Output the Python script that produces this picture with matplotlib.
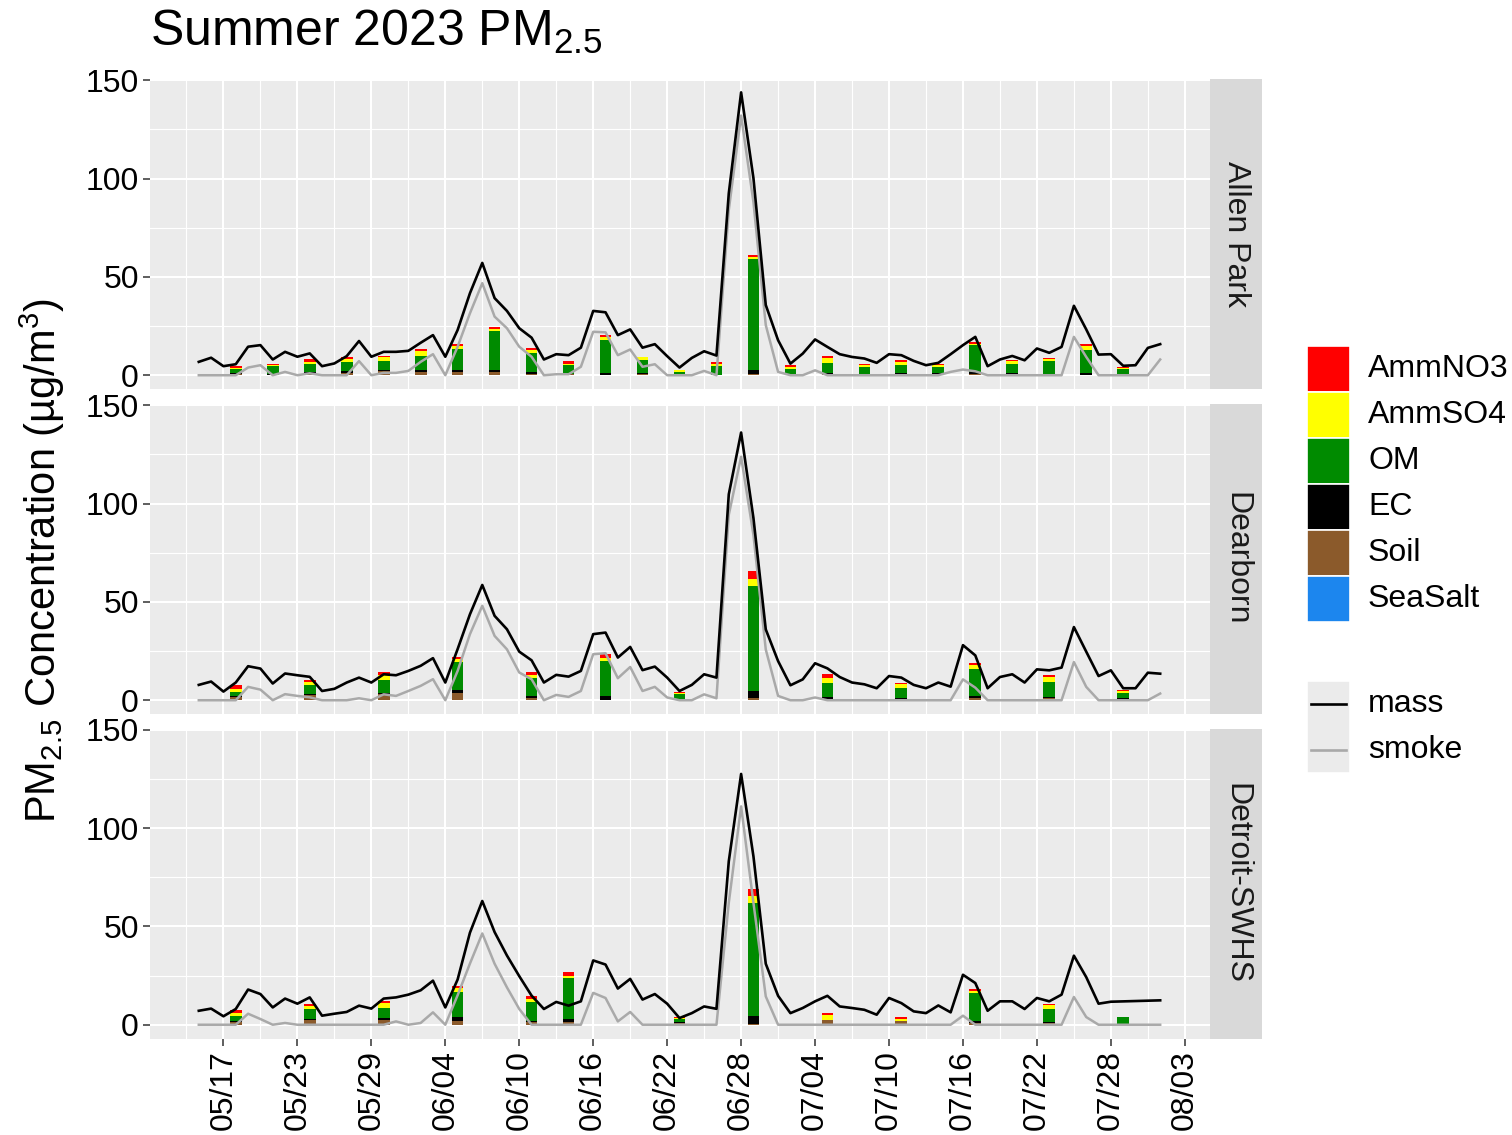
import numpy as np
import matplotlib
matplotlib.use("Agg")
import matplotlib.pyplot as plt
from matplotlib.patches import Rectangle
from matplotlib.lines import Line2D

plt.rcParams['font.family'] = ['Liberation Sans', 'DejaVu Sans']
plt.rcParams['mathtext.fontset'] = 'custom'
plt.rcParams['mathtext.rm'] = 'Liberation Sans'
plt.rcParams['mathtext.it'] = 'Liberation Sans:italic'
plt.rcParams['mathtext.default'] = 'regular'

# daily series 05/15 .. 08/01
days = np.arange('2023-05-15', '2023-08-02', dtype='datetime64[D]')

sites = ['Allen Park', 'Dearborn', 'Detroit-SWHS']

ap_mass = [6.8, 8.9, 4.6, 5.6, 14.5, 15.3, 8.0, 11.9, 9.4, 11.1, 4.6, 6.0, 9.7, 17.4, 9.4, 11.9, 11.9,
           12.4, 16.5, 20.4, 9.4, 23.0, 41.7, 57.1, 39.2, 32.7, 23.9, 19.1, 8.0, 10.7, 10.2, 14.0,
           32.7, 32.0, 20.4, 23.3, 14.0, 15.8, 9.7, 3.9, 8.8, 12.2, 10.0, 92.5, 143.8, 100.2, 35.7,
           17.8, 5.9, 11.0, 18.2, 14.4, 10.7, 9.3, 8.5, 6.3, 10.7, 10.2, 7.3, 5.1, 6.3, 10.7, 15.3,
           19.5, 4.6, 8.0, 9.8, 7.6, 13.6, 11.4, 14.4, 35.3, 23.3, 10.5, 10.7, 4.8, 5.1, 13.9,
           15.8]
ap_smoke = [0, 0, 0, 0, 3.9, 5.1, 0, 1.7, 0, 1.0, 0, 0, 0, 7.2, 0, 1.2, 1.2,
            2.2, 6.8, 10.7, 0, 14.5, 31.5, 46.8, 29.8, 23.9, 14.5, 9.4, 0, 0.5, 0.5, 4.3,
            22.1, 21.8, 10.2, 13.1, 4.3, 5.6, 0, 0, 0, 2.2, 0, 84.0, 132.0, 88.0, 25.5,
            1.7, 0, 0, 2.5, 0, 0, 0, 0, 0, 0, 0, 0, 0, 0, 1.7, 2.9,
            2.0, 0, 0, 0, 0, 0, 0, 0, 19.5, 9.3, 0, 0, 0, 0, 0,
            8.0]

db_mass = [7.8, 9.5, 4.4, 9.0, 17.3, 16.1, 8.5, 13.6, 12.7, 11.9, 4.7, 5.8, 9.0, 11.5, 9.0, 13.2, 12.7,
           14.9, 17.5, 21.4, 9.0, 26.0, 43.7, 58.6, 42.9, 36.1, 24.7, 20.3, 9.0, 12.9, 12.0, 14.9,
           33.6, 34.4, 21.7, 27.1, 15.3, 17.1, 11.5, 4.7, 7.8, 13.2, 11.5, 104.7, 136.1, 92.6, 36.0,
           19.9, 7.6, 10.6, 18.8, 16.2, 11.8, 9.0, 8.1, 6.1, 12.3, 11.5, 7.8, 6.1, 9.0, 6.9, 28.0,
           22.8, 6.1, 11.8, 13.2, 9.0, 15.7, 15.2, 16.6, 37.2, 24.7, 12.3, 15.2, 6.1, 6.1, 14.0,
           13.5]
db_smoke = [0, 0, 0, 0, 6.8, 5.4, 0, 3.1, 2.2, 1.5, 0, 0, 0, 1.0, 0, 3.0, 2.2,
            4.7, 7.3, 10.7, 0, 14.9, 33.6, 48.0, 32.7, 25.9, 14.1, 10.7, 0, 2.7, 1.7, 4.7,
            23.4, 23.9, 11.2, 16.9, 4.7, 6.8, 1.4, 0, 0, 3.0, 1.0, 94.3, 123.8, 84.0, 25.8,
            2.2, 0, 0, 1.4, 0, 0, 0, 0, 0, 0, 0, 0, 0, 0, 0, 10.6,
            6.4, 0, 0, 0, 0, 0, 0, 0, 19.4, 6.8, 0, 0, 0, 0, 0,
            3.4]

# no mass reported 07/29-07/31 at Detroit-SWHS
dt_mass = [7.1, 8.2, 4.3, 8.0, 17.9, 15.6, 8.8, 13.3, 10.7, 13.9, 4.6, 5.6, 6.5, 9.7, 8.2, 13.3, 13.9,
           15.3, 17.5, 22.4, 8.8, 23.0, 46.8, 62.9, 47.1, 35.2, 24.7, 14.8, 8.0, 11.6, 9.7, 11.9,
           32.7, 30.6, 18.4, 23.3, 12.8, 15.6, 10.7, 3.4, 5.9, 9.3, 8.1, 83.1, 127.5, 85.6, 31.0,
           14.7, 5.9, 8.5, 11.9, 14.7, 9.3, 8.5, 7.6, 5.1, 13.6, 11.0, 6.8, 5.9, 9.8, 6.3, 25.4,
           21.2, 7.1, 11.9, 11.9, 8.0, 13.6, 11.9, 15.3, 35.1, 24.2, 10.7, 11.7, None, None, None,
           12.4]
dt_smoke = [0, 0, 0, 0, 5.6, 2.9, 0, 0.9, 0, 0, 0, 0, 0, 0, 0, 0, 1.7,
            0, 0.9, 6.3, 0, 15.0, 31.1, 46.4, 31.0, 19.0, 8.0, 0, 0, 0, 0, 0,
            16.2, 13.6, 1.7, 6.5, 0, 0, 0, 0, 0, 0, 0, 62.0, 111.0, 62.0, 14.4,
            0, 0, 0, 0, 0, 0, 0, 0, 0, 0, 0, 0, 0, 0, 0, 4.6,
            0, 0, 0, 0, 0, 0, 0, 0, 14.1, 3.9, 0, 0, 0, 0, 0,
            0]

# speciation samples
ap_dates = np.arange('2023-05-18', '2023-07-30', 3, dtype='datetime64[D]')
ap_seasalt = [0.02, 0.02, 0.03, 0.02, 0.03, 0.02, 0.02, 0.03, 0.02, 0.02, 0.02, 0.02, 0.01,
              0.02, 0.03, 0.02, 0.02, 0.02, 0.02, 0.02, 0.02, 0.02, 0.02, 0.02, 0.01]
ap_soil = [0.5, 0.3, 0.8, 1.2, 2.2, 1.7, 1.7, 1.4, 0.7, 0.5, 0.1, 0.8, 0.2,
           0.2, 0.8, 0.5, 0.8, 0.5, 0.8, 0.8, 0.7, 0.8, 0.3, 0.2, 0.3]
ap_ec = [0.4, 0.3, 0.7, 0.9, 0.3, 0.9, 0.9, 1.2, 0.9, 0.2, 1.2, 0.2, 0.1,
         0.1, 1.7, 0.1, 0.1, 0.2, 0.5, 0.1, 0.8, 0.1, 0.5, 0.8, 0.1]
ap_om = [2.0, 4.0, 4.1, 4.6, 4.8, 7.3, 10.9, 20.1, 9.5, 4.3, 16.4, 6.5, 1.5,
         4.2, 56.5, 2.4, 5.4, 3.7, 3.7, 3.1, 13.6, 4.8, 6.3, 11.9, 2.7]
ap_so4 = [1.0, 0.8, 1.2, 1.5, 1.9, 2.4, 1.4, 1.0, 1.7, 0.9, 1.5, 1.5, 0.7,
          1.4, 1.2, 1.0, 2.4, 0.8, 1.7, 1.0, 1.0, 1.5, 1.0, 1.7, 0.8]
ap_no3 = [0.7, 0.5, 1.2, 0.9, 0.8, 0.9, 1.0, 0.7, 1.2, 1.2, 1.4, 0.5, 0.3,
          0.8, 0.8, 1.2, 1.2, 0.5, 0.8, 0.7, 0.8, 0.5, 0.8, 1.2, 0.2]

db_dates = np.arange('2023-05-18', '2023-07-30', 6, dtype='datetime64[D]')
db_seasalt = [0.02, 0.03, 0.02, 0.03, 0.02, 0.02, 0.01, 0.03, 0.02, 0.02, 0.02, 0.02, 0.01]
db_soil = [1.4, 2.5, 3.1, 3.6, 1.2, 0.2, 0.3, 1.0, 0.8, 0.8, 1.0, 1.0, 0.5]
db_ec = [0.5, 0.5, 0.8, 1.5, 0.8, 1.7, 0.5, 3.7, 0.8, 0.5, 1.2, 0.8, 0.5]
db_om = [2.2, 4.7, 6.3, 14.2, 9.5, 18.1, 2.5, 53.2, 7.3, 4.7, 13.9, 7.6, 2.9]
db_so4 = [1.7, 1.5, 2.7, 1.4, 1.2, 1.7, 0.5, 3.9, 2.5, 2.0, 1.9, 2.4, 0.8]
db_no3 = [2.0, 1.0, 1.5, 1.0, 1.4, 1.7, 0.3, 4.1, 1.7, 0.8, 0.7, 1.0, 0.3]

dt_dates = np.array(['2023-05-18', '2023-05-24', '2023-05-30', '2023-06-05', '2023-06-11',
                     '2023-06-14', '2023-06-23', '2023-06-29', '2023-07-05', '2023-07-11',
                     '2023-07-17', '2023-07-23', '2023-07-29'], dtype='datetime64[D]')
dt_seasalt = [0.02, 0.02, 0.03, 0.02, 0.02, 0.03, 0.01, 0.03, 0.02, 0.02, 0.02, 0.02, 0.01]
dt_soil = [1.2, 2.2, 2.2, 2.0, 1.2, 1.4, 1.0, 0.5, 2.2, 1.7, 0.8, 0.7, 0.5]
dt_ec = [0.5, 0.7, 1.0, 1.7, 0.8, 1.5, 0.3, 3.7, 0.0, 0.0, 1.0, 0.8, 0.1]
dt_om = [2.9, 5.1, 5.3, 13.1, 9.4, 20.7, 1.7, 57.6, 0.0, 0.0, 14.2, 6.6, 3.2]
dt_so4 = [1.4, 1.7, 2.6, 2.0, 1.9, 1.4, 0.5, 3.7, 2.5, 1.4, 1.2, 1.7, 0.0]
dt_no3 = [1.4, 1.0, 0.8, 1.0, 1.2, 1.9, 0.5, 3.6, 1.5, 0.7, 0.8, 0.8, 0.0]

species = ['AmmNO3', 'AmmSO4', 'OM', 'EC', 'Soil', 'SeaSalt']
species_colors = ['#FF0000', '#FFFF00', '#008B00', '#000000', '#8B5A2B', '#1C86EE']

site_data = [
    (ap_mass, ap_smoke, ap_dates, [ap_no3, ap_so4, ap_om, ap_ec, ap_soil, ap_seasalt]),
    (db_mass, db_smoke, db_dates, [db_no3, db_so4, db_om, db_ec, db_soil, db_seasalt]),
    (dt_mass, dt_smoke, dt_dates, [dt_no3, dt_so4, dt_om, dt_ec, dt_soil, dt_seasalt]),
]

W, H = 1512, 1135
fig = plt.figure(figsize=(W / 100, H / 100), dpi=100)


def px_box(x0, y0, x1, y1):
    return [x0 / W, 1 - y1 / H, (x1 - x0) / W, (y1 - y0) / H]


panel_tops = [79, 404, 728.5]
panel_h = 310.4
xmin = np.datetime64('2023-05-11') + np.timedelta64(1, 'h')
xmax = np.datetime64('2023-08-05') + np.timedelta64(1, 'h')
major_x = np.arange('2023-05-17', '2023-08-04', 6, dtype='datetime64[D]')
minor_x = np.arange('2023-05-14', '2023-08-04', 6, dtype='datetime64[D]')

for i, (site, (mass, smoke, bdates, comps)) in enumerate(zip(sites, site_data)):
    top = panel_tops[i]
    ax = fig.add_axes(px_box(150, top, 1210, top + panel_h))
    ax.set_facecolor('#EBEBEB')
    for s in ax.spines.values():
        s.set_visible(False)
    ax.set_axisbelow(True)

    # stacked bars, SeaSalt at the bottom and AmmNO3 on top
    bottom = np.zeros(len(bdates))
    for name, col, vals in reversed(list(zip(species, species_colors, comps))):
        vals = np.array(vals, dtype=float)
        ax.bar(bdates, vals, bottom=bottom, width=0.95, color=col, linewidth=0)
        bottom += vals

    m = np.array([np.nan if v is None else v for v in mass], dtype=float)
    ok = ~np.isnan(m)
    ax.plot(days, smoke, color='#A9A9A9', lw=1.8, zorder=3)
    ax.plot(days[ok], m[ok], color='black', lw=1.9, zorder=4)

    ax.set_xlim(xmin, xmax)
    ax.set_ylim(-7.2, 150.6)
    ax.set_yticks([0, 50, 100, 150])
    ax.set_yticks([25, 75, 125], minor=True)
    ax.set_xticks(major_x)
    ax.set_xticks(minor_x, minor=True)
    ax.grid(which='major', color='white', lw=1.5)
    ax.grid(which='minor', color='white', lw=0.8)
    ax.tick_params(which='major', length=5, width=1.1, color='#333333',
                   labelsize=23, labelcolor='black', pad=3)
    ax.tick_params(which='minor', length=0)
    if i == 2:
        ax.set_xticklabels([str(d)[5:].replace('-', '/') for d in major_x],
                           rotation=90, ha='center', va='top')
    else:
        ax.tick_params(axis='x', which='major', labelbottom=False, length=0)

    # facet strip
    sx = fig.add_axes(px_box(1210, top, 1262, top + panel_h))
    sx.set_facecolor('#D9D9D9')
    sx.set_xticks([])
    sx.set_yticks([])
    for s in sx.spines.values():
        s.set_visible(False)
    sx.text(0.5, 0.5, site, rotation=270, ha='center', va='center',
            fontsize=23, color='#1A1A1A', transform=sx.transAxes)

fig.text(150 / W, 1 - 46 / H, 'Summer 2023 PM$_{2.5}$', fontsize=36,
         ha='left', va='baseline')
fig.text(42 / W, 1 - 560 / H, 'PM$_{2.5}$ Concentration (µg/m$^{3}$)', fontsize=30,
         rotation=90, ha='center', va='center')

# legends, laid out in pixel space
lg = fig.add_axes([0, 0, 1, 1], zorder=-1)
lg.set_xlim(0, W)
lg.set_ylim(H, 0)
lg.axis('off')
for k, (name, col) in enumerate(zip(species, species_colors)):
    y0 = 346 + 46 * k
    lg.add_patch(Rectangle((1307, y0), 43, 46, facecolor=col, edgecolor='white', lw=1.2))
    lg.text(1368, y0 + 23, name, fontsize=23, va='center', ha='left')

lg.add_patch(Rectangle((1307, 681), 43, 92, facecolor='#EBEBEB', edgecolor='white', lw=1.2))
for y, col, name in [(704, 'black', 'mass'), (750, '#A9A9A9', 'smoke')]:
    lg.add_line(Line2D([1311, 1346], [y, y], color=col, lw=1.9))
    lg.text(1368, y, name, fontsize=23, va='center', ha='left')

fig.savefig('out.png', dpi=100)
